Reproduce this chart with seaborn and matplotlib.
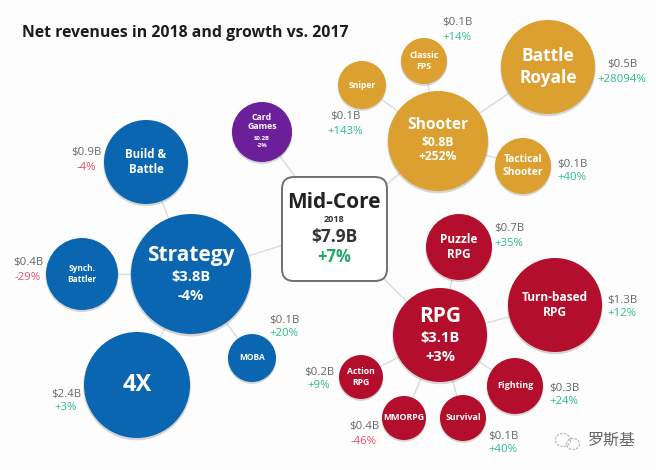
# Libraries
import pandas as pd
import numpy as np
import matplotlib.pyplot as plt
import seaborn as sns
from matplotlib.patches import FancyBboxPatch, Arc

sns.set_theme(style='white')
plt.rcParams['font.family'] = ['Open Sans', 'Noto Sans CJK SC', 'DejaVu Sans']

# Chart data
names = ['Strategy', 'Build &\nBattle', 'Synch.\nBattler', '4X', 'MOBA',
         'Card\nGames',
         'Shooter', 'Battle\nRoyale', 'Classic\nFPS', 'Sniper', 'Tactical\nShooter',
         'RPG', 'Puzzle\nRPG', 'Turn-based\nRPG', 'Action\nRPG', 'MMORPG', 'Survival', 'Fighting']
genre = ['Strategy'] * 5 + ['Card'] + ['Shooter'] * 5 + ['RPG'] * 7
parent = ['Mid', 'Strategy', 'Strategy', 'Strategy', 'Strategy',
          'Mid',
          'Mid', 'Shooter', 'Shooter', 'Shooter', 'Shooter',
          'Mid', 'RPG', 'RPG', 'RPG', 'RPG', 'RPG', 'RPG']
revenue = ['$3.8B', '$0.9B', '$0.4B', '$2.4B', '$0.1B',
           '$0.2B',
           '$0.8B', '$0.5B', '$0.1B', '$0.1B', '$0.1B',
           '$3.1B', '$0.7B', '$1.3B', '$0.2B', '$0.4B', '$0.1B', '$0.3B']
growth = ['-4%', '-4%', '-29%', '+3%', '+20%',
          '-2%',
          '+252%', '+28094%', '+14%', '+143%', '+40%',
          '+3%', '+35%', '+12%', '+9%', '-46%', '+40%', '+24%']

# Layout, in pixels
bubble_x = [191, 146, 82, 137, 252, 262, 438, 548, 424, 362, 523, 440, 459, 555, 361, 404, 463, 515]
bubble_y = [274, 162, 274, 385, 358, 132, 141, 67, 61, 85, 166, 335, 247, 305, 377, 418, 418, 386]
bubble_r = [60, 42, 36, 53, 24, 30, 50, 47, 23, 24, 28, 47, 33, 47, 22, 22, 23, 28]
name_size = [15, 8.3, 6, 17, 6, 6.3, 11.2, 12.5, 6.3, 6.2, 7.4, 15, 8.5, 8.6, 6.2, 6.3, 6.4, 6.4]
label_x = [None, 86, 28, 66, 284, None, None, 622, 457, 345, 572, None, 509, 622, 319, 364, 503, 564]
label_y = [None, 160, 270, 401, 327, None, None, 72, 30, 124, 171, None, 236, 307, 379, 434, 443, 395]

mid_x, mid_y = 334, 229
colors = {'Strategy': '#0b66b2', 'Card': '#6c1f9a', 'Shooter': '#dba02f', 'RPG': '#b30f2c'}
up_color = '#2fbf83'
down_color = '#e4506a'

df = pd.DataFrame({'name': names, 'genre': genre, 'parent': parent,
                   'x': bubble_x, 'y': bubble_y, 'r': bubble_r})
# scatter size is area in points^2, one pixel is 0.72 pt at dpi 100
df['area'] = (2 * df['r'] * 0.72) ** 2

fig = plt.figure(figsize=(6.56, 4.70), dpi=100, facecolor='#fdfdfd')
ax = fig.add_axes([0, 0, 1, 1])
ax.set_xlim(0, 656)
ax.set_ylim(470, 0)
ax.axis('off')

# Connector lines
centers = {'Mid': (mid_x, mid_y), 'Strategy': (191, 274), 'Shooter': (438, 141), 'RPG': (440, 335)}
for i, row in df.iterrows():
    px, py = centers[row['parent']]
    ax.plot([px, row['x']], [py, row['y']], color='#d9dbdd', lw=1, zorder=1)

# Soft shadow, then the bubbles
shadow = df.copy()
shadow['y'] = shadow['y'] + 1.5
sns.scatterplot(data=shadow, x='x', y='y', size='area', sizes=(df['area'].min() * 1.03, df['area'].max() * 1.03),
                color='#888888', alpha=0.35, linewidth=0, legend=False, ax=ax, zorder=2)
sns.scatterplot(data=df, x='x', y='y', hue='genre', palette=colors, size='area',
                sizes=(df['area'].min(), df['area'].max()),
                linewidth=0, legend=False, ax=ax, zorder=3)
ax.set_xlabel('')
ax.set_ylabel('')

# Text in and around the bubbles
for i, row in df.iterrows():
    if label_x[i] is None:
        # main genres hold the name, revenue and growth
        if row['genre'] == 'Card':
            ax.text(row['x'], row['y'] - 10, row['name'], color='white', fontsize=name_size[i], fontweight='bold',
                    ha='center', va='center', zorder=4, linespacing=1.1)
            ax.text(row['x'], row['y'] + 10, revenue[i] + '\n' + growth[i], color='white', fontsize=4.3,
                    fontweight='bold', ha='center', va='center', zorder=4, linespacing=1.3)
        else:
            big = row['r'] > 55 or row['name'] == 'RPG'
            name_off = -19 if row['name'] == 'Strategy' else (-18 if big else -16)
            ax.text(row['x'], row['y'] + name_off, row['name'], color='white',
                    fontsize=name_size[i], fontweight='bold', ha='center', va='center', zorder=4)
            ax.text(row['x'], row['y'] + 3 if big else row['y'] + 1, revenue[i], color='white',
                    fontsize=10.5 if big else 8.7, fontweight='bold', ha='center', va='center', zorder=4)
            ax.text(row['x'], row['y'] + 22 if big else row['y'] + 15, growth[i], color='white',
                    fontsize=10.5 if big else 8.7, fontweight='bold', ha='center', va='center', zorder=4)
    else:
        ax.text(row['x'], row['y'], row['name'], color='white', fontsize=name_size[i], fontweight='bold',
                ha='center', va='center', zorder=4, linespacing=1.25)
        ax.text(label_x[i], label_y[i] - 7, revenue[i], color='#666666', fontsize=8.2, ha='center', va='center')
        ax.text(label_x[i], label_y[i] + 7, growth[i], color=down_color if growth[i][0] == '-' else up_color,
                fontsize=8.2, ha='center', va='center')

# Centre box
box = FancyBboxPatch((289, 184), 91, 90, boxstyle='round,pad=0,rounding_size=10', fc='white',
                     ec='#6f6f6f', lw=1.4, mutation_aspect=1, zorder=5)
box.set_boxstyle('round,pad=7,rounding_size=12')
ax.add_patch(box)
ax.text(334, 202, 'Mid-Core', color='#222222', fontsize=15, fontweight='bold', ha='center', va='center', zorder=6)
ax.text(334, 220, '2018', color='#333333', fontsize=6.5, fontweight='bold', ha='center', va='center', zorder=6)
ax.text(334, 237, '$7.9B', color='#333333', fontsize=12.5, fontweight='bold', ha='center', va='center', zorder=6)
ax.text(334, 257, '+7%', color='#1fa968', fontsize=12, fontweight='bold', ha='center', va='center', zorder=6)

# Title
ax.text(22, 33, 'Net revenues in 2018 and growth vs. 2017', color='#1d1d1d', fontsize=11.45, fontweight='bold',
        ha='left', va='center')

# Watermark
ax.add_patch(Arc((563, 440), 15, 13, color='#bbbbbb', lw=0.9, ls=(0, (2, 1))))
ax.add_patch(Arc((573, 444), 13, 11, color='#bbbbbb', lw=0.9, ls=(0, (2, 1))))
ax.text(612, 441, '罗斯基', color='#666666', fontsize=11.5, ha='center', va='center')

fig.savefig('out.png', dpi=100, facecolor=fig.get_facecolor())
